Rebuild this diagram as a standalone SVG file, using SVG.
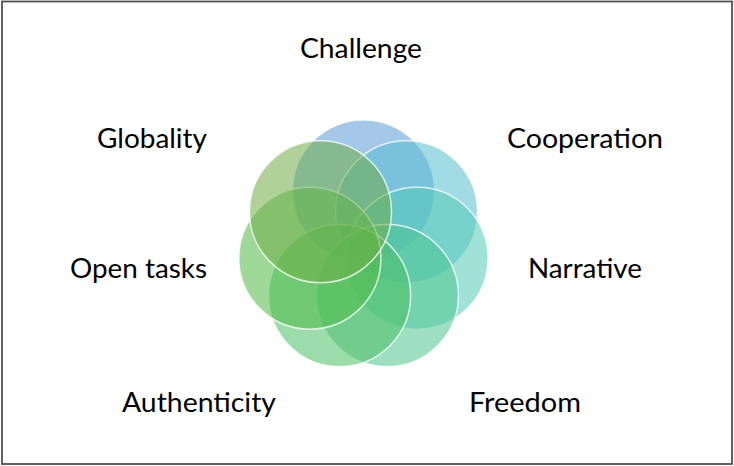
<svg xmlns="http://www.w3.org/2000/svg" width="734" height="466" viewBox="0 0 734 466">
<style>
.c{fill-opacity:0.55;stroke:#ffffff;stroke-opacity:0.75;stroke-width:1.5}
.t{font-family:Lato,"Open Sans","Liberation Sans",sans-serif;font-size:26px;fill:#000000;text-anchor:middle}
</style>
<rect x="2" y="1.5" width="730" height="462.5" fill="#ffffff" stroke="#505050" stroke-width="1.8"/>
<g id="connectors"/>
<g id="node-challenge">
<circle class="c" cx="363.5" cy="191" r="71" fill="#5B9BD5"/>
<text class="t" x="361" y="58" textLength="122" lengthAdjust="spacingAndGlyphs">Challenge</text>
</g>
<g id="node-cooperation">
<circle class="c" cx="406.5" cy="211.7" r="71" fill="#58BED0"/>
<text class="t" x="585" y="148" textLength="156" lengthAdjust="spacingAndGlyphs">Cooperation</text>
</g>
<g id="node-narrative">
<circle class="c" cx="417.1" cy="258.2" r="71" fill="#53CAB8"/>
<text class="t" x="585" y="278" textLength="114" lengthAdjust="spacingAndGlyphs">Narrative</text>
</g>
<g id="node-freedom">
<circle class="c" cx="387.4" cy="295.6" r="71" fill="#4FC48E"/>
<text class="t" x="525" y="412" textLength="112" lengthAdjust="spacingAndGlyphs">Freedom</text>
</g>
<g id="node-authenticity">
<circle class="c" cx="339.6" cy="295.6" r="71" fill="#4BBE64"/>
<text class="t" x="199" y="412" textLength="154" lengthAdjust="spacingAndGlyphs">Authenticity</text>
</g>
<g id="node-open-tasks">
<circle class="c" cx="309.9" cy="258.2" r="71" fill="#50B946"/>
<text class="t" x="138.5" y="278" textLength="137" lengthAdjust="spacingAndGlyphs">Open tasks</text>
</g>
<g id="node-globality">
<circle class="c" cx="320.5" cy="211.7" r="71" fill="#70AD47"/>
<text class="t" x="152" y="148" textLength="110" lengthAdjust="spacingAndGlyphs">Globality</text>
</g>
</svg>
